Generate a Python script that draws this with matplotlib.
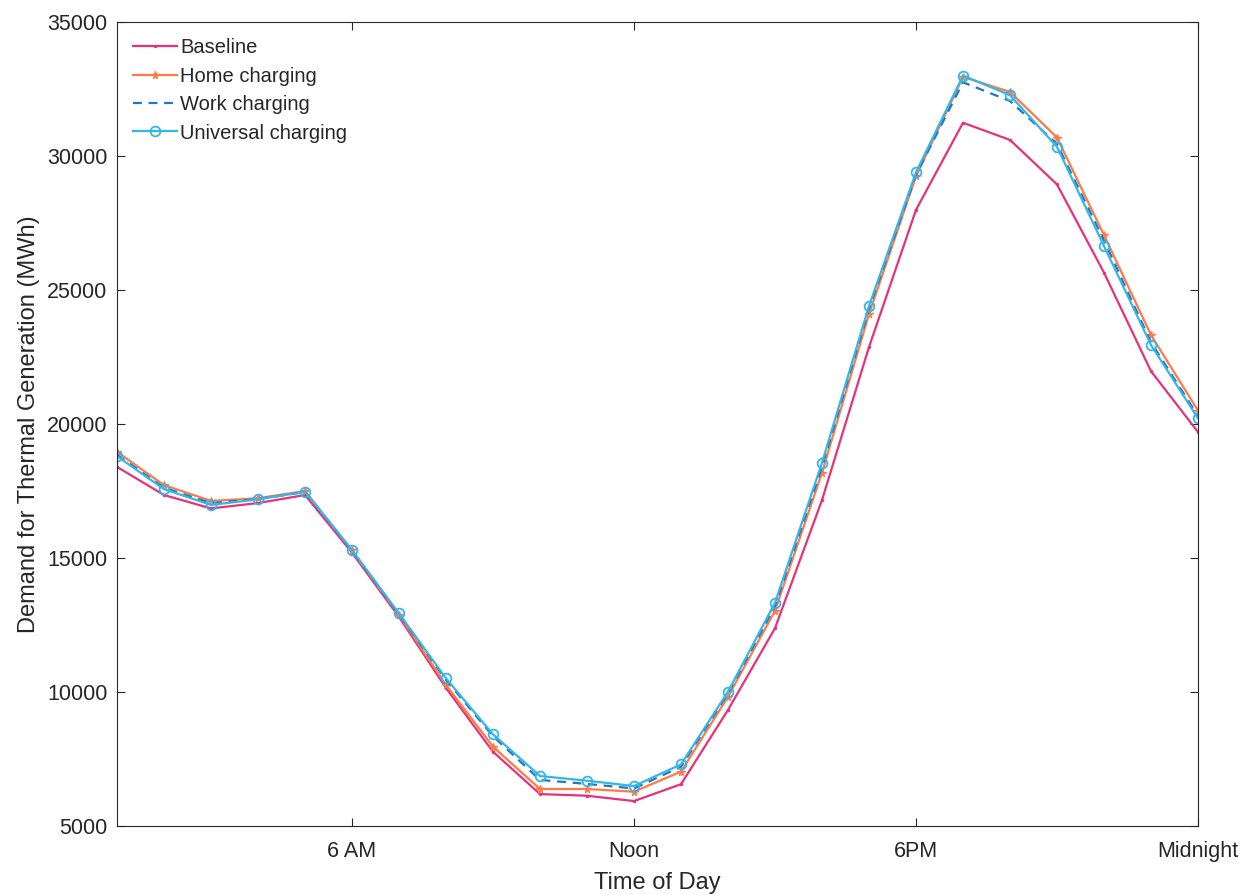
import matplotlib.pyplot as plt
import numpy as np

plt.rcParams['font.family'] = ['Liberation Sans', 'DejaVu Sans']

# hours of the day (1..24)
hours = np.arange(1, 25)

baseline = [18400, 17350, 16850, 17050, 17350, 15200, 12800, 10150, 7770, 6190,
            6130, 5930, 6560, 9330, 12380, 17160, 22870, 27990, 31240, 30600,
            28940, 25650, 21970, 19700]
home = [18960, 17720, 17130, 17230, 17500, 15280, 12880, 10260, 7960, 6380,
        6380, 6280, 7030, 9820, 13030, 18180, 24100, 29240, 32950, 32390,
        30690, 27050, 23320, 20500]
work = [18850, 17620, 17050, 17200, 17460, 15270, 12900, 10450, 8350, 6720,
        6570, 6400, 7210, 9950, 13200, 18400, 24300, 29300, 32750, 32050,
        30450, 26850, 23050, 20300]
universal = [18800, 17570, 16980, 17190, 17470, 15300, 12930, 10510, 8420, 6865,
             6690, 6490, 7300, 10010, 13330, 18550, 24400, 29390, 33000, 32270,
             30340, 26640, 22950, 20210]

xtick_pos = [6, 12, 18, 24]
xtick_labels = ['6 AM', 'Noon', '6PM', 'Midnight']

px = 1/plt.rcParams['figure.dpi']
fig = plt.figure(figsize=(1252*px, 895*px))
ax = fig.add_axes([117/1252, 69/895, 1081/1252, 804/895])

ax.plot(hours, baseline, color='#E8317A', lw=1.6, marker='.', ms=3, label='Baseline')
ax.plot(hours, home, color='#FF7A45', lw=1.6, marker='*', ms=5.5, label='Home charging')
ax.plot(hours, work, color='#1F78C1', lw=1.6, ls='--', dashes=(4, 3), label='Work charging')
ax.plot(hours, universal, color='#35B6E9', lw=1.6, marker='o', ms=7, mfc='none',
        mew=1.3, label='Universal charging')

ax.set_xlim(1, 24)
ax.set_ylim(5000, 35000)
ax.set_xticks(xtick_pos)
ax.set_xticklabels(xtick_labels)
ax.set_yticks(np.arange(5000, 35001, 5000))

dark = '#262626'
for s in ax.spines.values():
    s.set_color(dark)
    s.set_linewidth(0.8)
ax.tick_params(direction='in', top=True, right=True, length=6, width=0.8,
               colors=dark, labelsize=15.5)
ax.tick_params(axis='x', pad=11)
ax.tick_params(axis='y', pad=7)

ax.set_xlabel('Time of Day', fontsize=17, color=dark, labelpad=7)
ax.set_ylabel('Demand for Thermal Generation (MWh)', fontsize=17, color=dark, labelpad=5)

leg = ax.legend(loc='upper left', frameon=False, fontsize=14.5, handlelength=2.2,
                handletextpad=0.15, labelspacing=0.47, borderaxespad=0.4, borderpad=0.4)
for t in leg.get_texts():
    t.set_color(dark)

plt.savefig('out.png')
